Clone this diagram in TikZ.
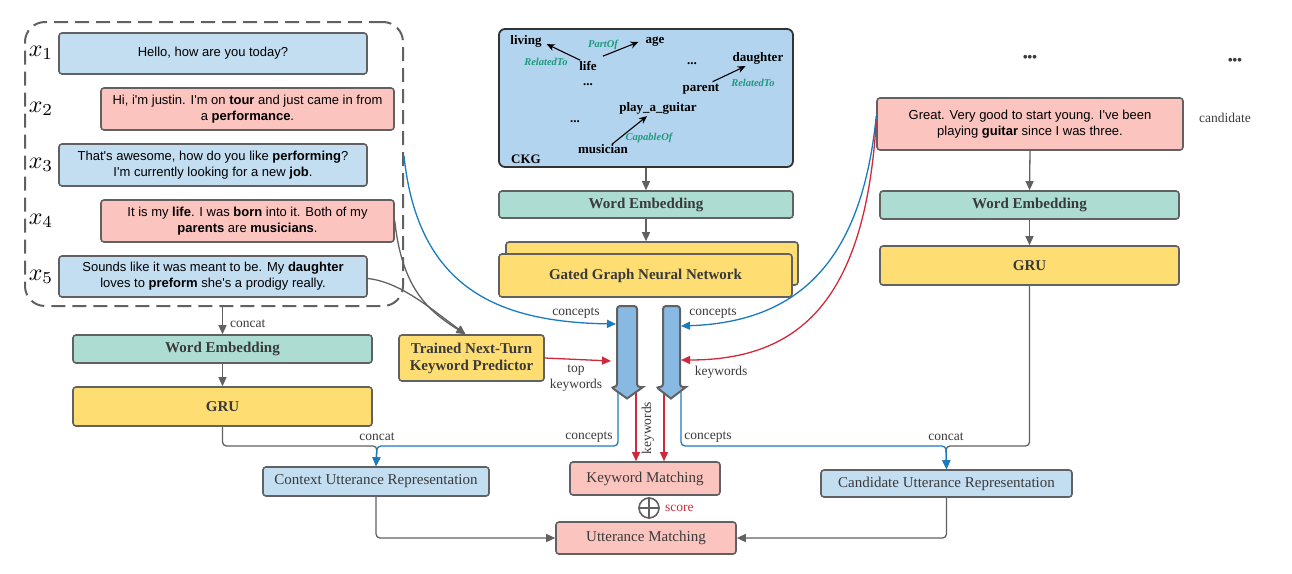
\documentclass[tikz,border=0pt]{standalone}
\usepackage{fontspec}
\usepackage{graphicx}
\setmainfont{Liberation Serif}
\newfontfamily\sansf{Liberation Sans}
\usetikzlibrary{arrows.meta,calc}
\definecolor{bordergray}{HTML}{616161}
\definecolor{txtgray}{HTML}{3A3A3A}
\definecolor{bluefill}{HTML}{C3DDF1}
\definecolor{pinkfill}{HTML}{FBC4BE}
\definecolor{greenfill}{HTML}{ACDCD2}
\definecolor{yellowfill}{HTML}{FEDD73}
\definecolor{ckgfill}{HTML}{B3D4EE}
\definecolor{blockfill}{HTML}{87B9E2}
\definecolor{lineblue}{HTML}{1B7BBF}
\definecolor{linered}{HTML}{CF2A3B}
\definecolor{relgreen}{HTML}{1E9A7C}
\begin{document}
\begin{tikzpicture}[x=1pt,y=-1pt,
  >={Triangle[length=9pt,width=8pt]},
  mod/.style={draw=bordergray, line width=1.6pt, rounded corners=3pt, inner sep=0pt, align=center, text=txtgray, font=\fontsize{15}{17}\selectfont},
  utt/.style={mod, text=black, font=\sansf\fontsize{13}{16}\selectfont},
  lbl/.style={font=\fontsize{13.5}{15}\selectfont, text=txtgray, inner sep=1pt, align=center},
  conn/.style={draw=bordergray, line width=1.3pt, rounded corners=4pt},
  bconn/.style={draw=lineblue, line width=1.3pt, rounded corners=4pt},
  rconn/.style={draw=linered, line width=1.3pt},
  ckgw/.style={font=\bfseries\fontsize{13}{15}\selectfont, inner sep=1pt},
  rel/.style={font=\bfseries\itshape\fontsize{10.5}{12}\selectfont, text=relgreen, inner sep=1pt},
  ckgarr/.style={draw=black, line width=1.1pt, -{Stealth[length=8pt,width=7pt]}},
  xl/.style={inner sep=0pt},
  blk/.style={draw=bordergray, fill=blockfill, line width=2pt, rounded corners=3pt}
]
\useasboundingbox (0,0) rectangle (1292,573);

% ---------- context frame ----------
\node[draw=bordergray, line width=2pt, dash pattern=on 14pt off 7pt, rounded corners=20pt,
      minimum width=378pt, minimum height=284pt, inner sep=0pt] (ctx) at (214,164) {};
\node[utt, fill=bluefill, minimum width=308pt, minimum height=41pt] (u1) at (213,53.5) {Hello, how are you today?};
\node[utt, fill=pinkfill, minimum width=293pt, minimum height=42pt] (u2) at (247.5,109) {Hi, i'm justin. I'm on \textbf{tour} and just came in from\\ a \textbf{performance}.};
\node[utt, fill=bluefill, minimum width=308pt, minimum height=42pt] (u3) at (213,165) {That's awesome, how do you like \textbf{performing}?\\ I'm currently looking for a new \textbf{job}.};
\node[utt, fill=pinkfill, minimum width=293pt, minimum height=42pt] (u4) at (247.5,221) {It is my \textbf{life}. I was \textbf{born} into it. Both of my\\ \textbf{parents} are \textbf{musicians}.};
\node[utt, fill=bluefill, minimum width=308pt, minimum height=41pt] (u5) at (213,276.5) {Sounds like it was meant to be. My \textbf{daughter}\\ loves to \textbf{preform} she's a prodigy really.};
\node[xl] (x1) at (41,53) {\scalebox{2.4}{$x_1$}};
\node[xl] (x2) at (41,109) {\scalebox{2.4}{$x_2$}};
\node[xl] (x3) at (41,165) {\scalebox{2.4}{$x_3$}};
\node[xl] (x4) at (41,221) {\scalebox{2.4}{$x_4$}};
\node[xl] (x5) at (41,277) {\scalebox{2.4}{$x_5$}};

% ---------- left column ----------
\node[mod, fill=greenfill, minimum width=299pt, minimum height=28pt, font=\bfseries\fontsize{15}{17}\selectfont] (lwe) at (222.5,349) {Word Embedding};
\node[mod, fill=yellowfill, minimum width=299pt, minimum height=39pt, font=\bfseries\fontsize{15}{17}\selectfont] (lgru) at (222.5,406.5) {GRU};
\node[mod, fill=bluefill, minimum width=226pt, minimum height=29pt] (crep) at (376,481.5) {Context Utterance Representation};
\node[mod, fill=yellowfill, minimum width=145pt, minimum height=46pt, font=\bfseries\fontsize{15}{17}\selectfont] (pred) at (471.5,358) {Trained Next-Turn\\ Keyword Predictor};

% ---------- middle column ----------
\node[draw=black!80, line width=1.8pt, rounded corners=6pt, fill=ckgfill, minimum width=294pt, minimum height=138pt, inner sep=0pt] (ckg) at (646,98) {};
\node[ckgw] (living) at (526,41) {living};
\node[ckgw] (age) at (655,42) {age};
\node[ckgw] (life) at (588,66) {life};
\node[ckgw] (daughter) at (758,58) {daughter};
\node[ckgw] (dd1) at (692,64) {...};
\node[ckgw] (dd2) at (588,85) {...};
\node[ckgw] (parent) at (701,89) {parent};
\node[ckgw] (play) at (658,108) {play\_a\_guitar};
\node[ckgw] (dd3) at (575,122) {...};
\node[ckgw] (musician) at (603,149) {musician};
\node[ckgw] (ckglbl) at (526,159) {CKG};
\node[rel] (r1) at (546,62) {RelatedTo};
\node[rel] (r2) at (603,45) {PartOf};
\node[rel] (r3) at (753,83) {RelatedTo};
\node[rel] (r4) at (649,138) {CapableOf};
\draw[ckgarr] ($(life.north west)+(2,0)$) -- ($(living.south east)+(4,-4)$);
\draw[ckgarr] ($(life.north east)+(5,-4)$) -- ($(age.west)+(-6,0)$);
\draw[ckgarr] ($(parent.north east)+(-8,-1)$) -- ($(daughter.south west)+(14,1)$);
\draw[ckgarr] ($(musician.north)+(9,1)$) -- ($(play.south)+(-11,1)$);

\node[mod, fill=greenfill, minimum width=294pt, minimum height=27pt, font=\bfseries\fontsize{15}{17}\selectfont] (mwe) at (646,204.5) {Word Embedding};
\node[mod, fill=yellowfill, minimum width=292pt, minimum height=43pt] (ggb) at (652,263.5) {};
\node[mod, fill=yellowfill, minimum width=293pt, minimum height=43pt, font=\bfseries\fontsize{15}{17}\selectfont] (ggf) at (645.5,275.5) {Gated Graph Neural Network};

\node[mod, fill=pinkfill, minimum width=150pt, minimum height=33pt] (km) at (645,478.5) {Keyword Matching};
\node[mod, fill=pinkfill, minimum width=180pt, minimum height=32pt] (um) at (646,538) {Utterance Matching};
\node[circle, draw=bordergray, line width=1.6pt, minimum size=20pt, inner sep=0pt] (op) at (649,508) {};
\draw[draw=bordergray, line width=1.6pt] (op.north) -- (op.south) (op.west) -- (op.east);
\node[lbl, text=linered, anchor=west] (score) at (664,508) {score};

% ---------- right column ----------
\node[utt, fill=pinkfill, minimum width=306pt, minimum height=52pt] (cu) at (1030,124) {Great. Very good to start young. I've been\\ playing \textbf{guitar} since I was three.};
\node[lbl] (candlbl) at (1225,118) {candidate};
\node[font=\sansf\bfseries\fontsize{13}{13}\selectfont, text=txtgray] (dots1) at (1030,58) {•••};
\node[font=\sansf\bfseries\fontsize{13}{13}\selectfont, text=txtgray] (dots2) at (1235,61) {•••};
\node[mod, fill=greenfill, minimum width=299pt, minimum height=28pt, font=\bfseries\fontsize{15}{17}\selectfont] (rwe) at (1029.5,205) {Word Embedding};
\node[mod, fill=yellowfill, minimum width=299pt, minimum height=39pt, font=\bfseries\fontsize{15}{17}\selectfont] (rgru) at (1029.5,265.5) {GRU};
\node[mod, fill=bluefill, minimum width=251pt, minimum height=27pt] (cr) at (946.5,483.5) {Candidate Utterance Representation};

% ---------- coordinates ----------
\coordinate (jl) at (377,446);
\coordinate (jr) at (946,446);
\coordinate (la1) at (618,392);
\coordinate (la2) at (636,392);
\coordinate (ra1) at (664,392);
\coordinate (ra2) at (681,392);
\coordinate (lain1) at (616,324);
\coordinate (lain2) at (611,361);
\coordinate (rain1) at (681,326);
\coordinate (rain2) at (681,360);

% ---------- gray connectors ----------
\draw[conn,->] (ctx.south -| lwe.north) -- (lwe.north);
\node[lbl, anchor=west] (cc1) at (229,324) {concat};
\draw[conn,->] (lwe.south) -- (lgru.north);
\draw[conn,->] (lgru.south) |- (jl) -- (crep.north);
\draw[conn,->] (ckg.south) -- (mwe.north);
\draw[conn,->] (mwe.south) -- (mwe.south |- ggb.north);
\draw[conn,->] (cu.south) -- (rwe.north);
\draw[conn,->] (rwe.south) -- (rgru.north);
\draw[conn,->] (rgru.south) |- (jr) -- (cr.north);
\draw[conn,->] (crep.south) |- (um.west);
\draw[conn,->] (cr.south) |- (um.east);
\draw[conn,->] (u4.east) .. controls (402,290) and (430,312) .. ($(pred.north)+(-6,0)$);
\draw[conn,->] ($(u5.east)+(0,2)$) .. controls (400,282) and (430,308) .. ($(pred.north)+(-6,0)$);

% ---------- blue / red connectors ----------
\draw[bconn,->] ($(ctx.east)+(0,-8)$) .. controls (418,290) and (500,322) .. (lain1);
\draw[rconn,->] (pred.east) -- (lain2);
\draw[bconn,->] ($(cu.west)+(0,-8)$) .. controls (862,260) and (800,322) .. (rain1);
\draw[rconn,->] ($(cu.west)+(0,-2)$) .. controls (865,300) and (800,360) .. (rain2);
\draw[bconn,->] (la1) |- (jl) -- (crep.north);
\draw[bconn,->] (ra2) |- (jr) -- (cr.north);
\draw[rconn,->] (la2) -- (la2 |- km.north);
\draw[rconn,->] (ra1) -- (ra1 |- km.north);

% ---------- block arrows ----------
\path[blk] (617,306) -- (617,387) -- (611,387) [sharp corners] -- (627,398.5) -- (643,387) [rounded corners=3pt] -- (637,387) -- (637,306) -- cycle;
\path[blk] (663,306) -- (663,387) -- (656,387) [sharp corners] -- (671,398.5) -- (686,387) [rounded corners=3pt] -- (680,387) -- (680,306) -- cycle;

% ---------- labels ----------
\node[lbl] (cc2) at (377,437) {concat};
\node[lbl] (cc3) at (946,437) {concat};
\node[lbl] (cp1) at (589,437) {concepts};
\node[lbl] (cp2) at (708,437) {concepts};
\node[lbl] (cp3) at (576,313) {concepts};
\node[lbl] (cp4) at (713,313) {concepts};
\node[lbl, font=\fontsize{13.5}{16}\selectfont] (tk) at (576,378) {top\\ keywords};
\node[lbl] (kw1) at (721,372) {keywords};
\node[lbl, rotate=90] (kw2) at (648,428) {keywords};
\end{tikzpicture}
\end{document}
